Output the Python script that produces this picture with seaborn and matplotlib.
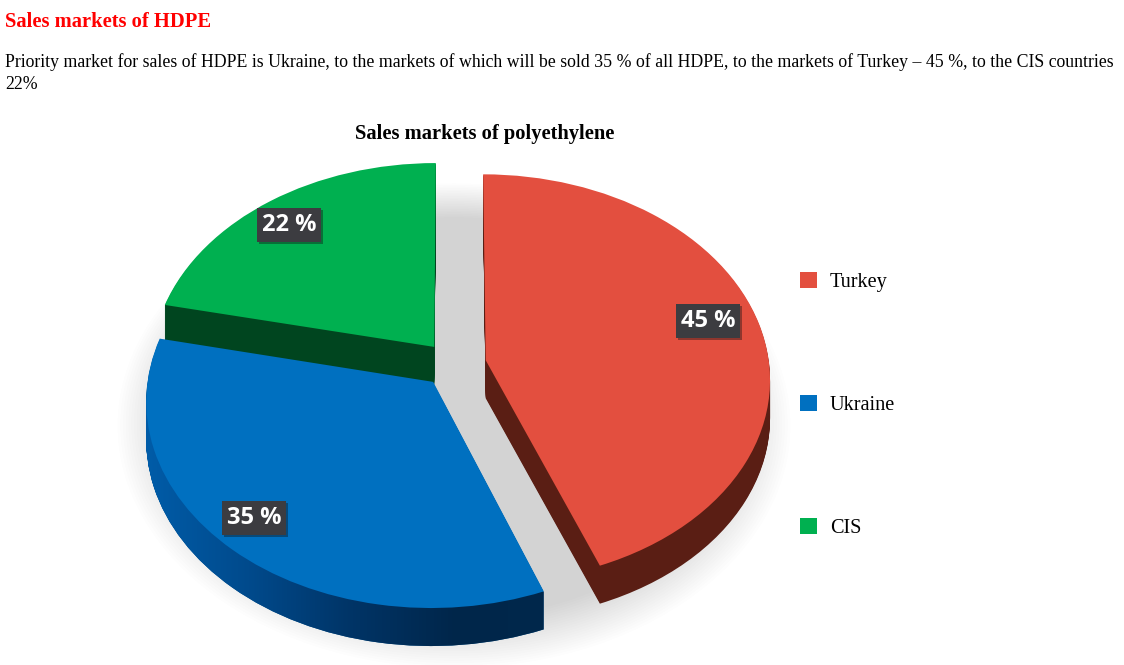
import numpy as np
import matplotlib
matplotlib.use("Agg")
import matplotlib.pyplot as plt
import matplotlib.patheffects as pe
from matplotlib.patches import Rectangle
from matplotlib.path import Path
from matplotlib.transforms import Transform
import seaborn as sns

# Data
markets = ["Turkey", "Ukraine", "CIS"]
shares = [45, 35, 22]
share_labels = ["45 %", "35 %", "22 %"]
explode = [0.114, 0.112, 0.112]

top_colors = ["#E34F3F", "#0070C0", "#00B050"]
side_colors = ["#5A1E14", "#00528F", "#00451F"]

heading = "Sales markets of HDPE"
body_lines = [
    "Priority market for sales of HDPE is Ukraine, to the markets of which will be sold 35 % of all HDPE, "
    "to the markets of Turkey \u2013 45 %, to the CIS countries",
    "22%",
]
chart_title = "Sales markets of polyethylene"

sns.set_theme(style="white")
plt.rcParams["font.family"] = ["Liberation Serif", "DejaVu Serif"]


# Tilted disc seen in perspective, front of the pie comes out bigger
class TiltedDisc(Transform):
    input_dims = 2
    output_dims = 2

    def __init__(self, drop=0):
        super().__init__()
        self.drop = drop

    def transform_non_affine(self, xy):
        xy = np.asarray(xy, dtype=float)
        w = 1 + 0.088 * xy[:, 1]
        return np.column_stack([454 + 283.5 * xy[:, 0] / w,
                                364.5 - 203 * xy[:, 1] / w + self.drop])


fig = plt.figure(figsize=(11.24, 6.65), dpi=100, facecolor="white")
ax = fig.add_axes([0, 0, 1, 1])


def draw_pie(values, colors, drop=0, radius=1, alpha=1, offsets=None):
    wedges, _ = ax.pie(values, explode=offsets, colors=colors, startangle=90, counterclock=False,
                       radius=radius, wedgeprops=dict(linewidth=0, alpha=alpha))
    for w in wedges:
        w.set_transform(TiltedDisc(drop) + ax.transData)
    return wedges


# Soft shadow under the pie, one whole disc so no seams show
for r in np.linspace(1.18, 0.98, 22):
    for w in draw_pie([sum(shares)], ["#555555"], drop=36, radius=r, alpha=0.013):
        w.set_zorder(1)

# Side walls: same pie repeated going down, CIS at the back and Turkey in front
drops = range(38, 0, -1)
for d in drops:
    layer = draw_pie(shares, side_colors, drop=d, offsets=explode)
    for w, z in zip(layer, [6, 4, 2]):
        w.set_zorder(z)
    # keep the CIS wall from peeking out on the right of the straight edge
    layer[2].set_clip_path(Rectangle((0, 0), 434.5, 665, transform=ax.transData))

top = draw_pie(shares, top_colors, offsets=explode)
for w, z in zip(top, [7, 5.5, 3]):
    w.set_zorder(z)

# Blue wall gets darker to the right
wall_cmap = sns.blend_palette(["#005CA8", "#004A8C", "#003466", "#00264A", "#00284C"], as_cmap=True)
wall = ax.imshow(np.linspace(0, 1, 256).reshape(1, -1), extent=(145, 560, 660, 400), cmap=wall_cmap,
                 aspect="auto", zorder=5)
wall_path = Path.make_compound_path(*[TiltedDisc(d).transform_path(top[1].get_path()) for d in drops])
wall.set_clip_path(wall_path, ax.transData)

ax.set_aspect("auto")
ax.set_xlim(0, 1124)
ax.set_ylim(665, 0)
ax.axis("off")

# Value labels
label_pos = [(708, 321), (254, 518), (289, 225)]
for label, (x, y) in zip(share_labels, label_pos):
    t = ax.text(x, y, label, color="white", fontsize=17, fontweight="bold", family="Open Sans",
                ha="center", va="center", zorder=10,
                bbox=dict(boxstyle="square,pad=0.2", facecolor="#3C3C40", edgecolor="none"))
    t.get_bbox_patch().set_path_effects([pe.withSimplePatchShadow(offset=(1.5, -1.5), alpha=0.4)])

# Legend
ax.legend(top, markets, loc="upper left", bbox_to_anchor=(800, 272), bbox_transform=ax.transData,
          frameon=False, fontsize=14.6, labelcolor="black", handlelength=0.85, handleheight=0.85,
          handletextpad=0.62, labelspacing=5.07, borderpad=0, borderaxespad=0)

# Page text
ax.text(5, 27, heading, color="#FF0000", fontsize=14.8, fontweight="bold", ha="left", va="baseline")
ax.text(5, 67, body_lines[0], color="black", fontsize=12.8, ha="left", va="baseline")
ax.text(5, 89, body_lines[1], color="black", fontsize=12.8, ha="left", va="baseline")
ax.text(485, 139, chart_title, color="black", fontsize=14.8, fontweight="bold", ha="center", va="baseline")

fig.savefig("out.png", dpi=100)
